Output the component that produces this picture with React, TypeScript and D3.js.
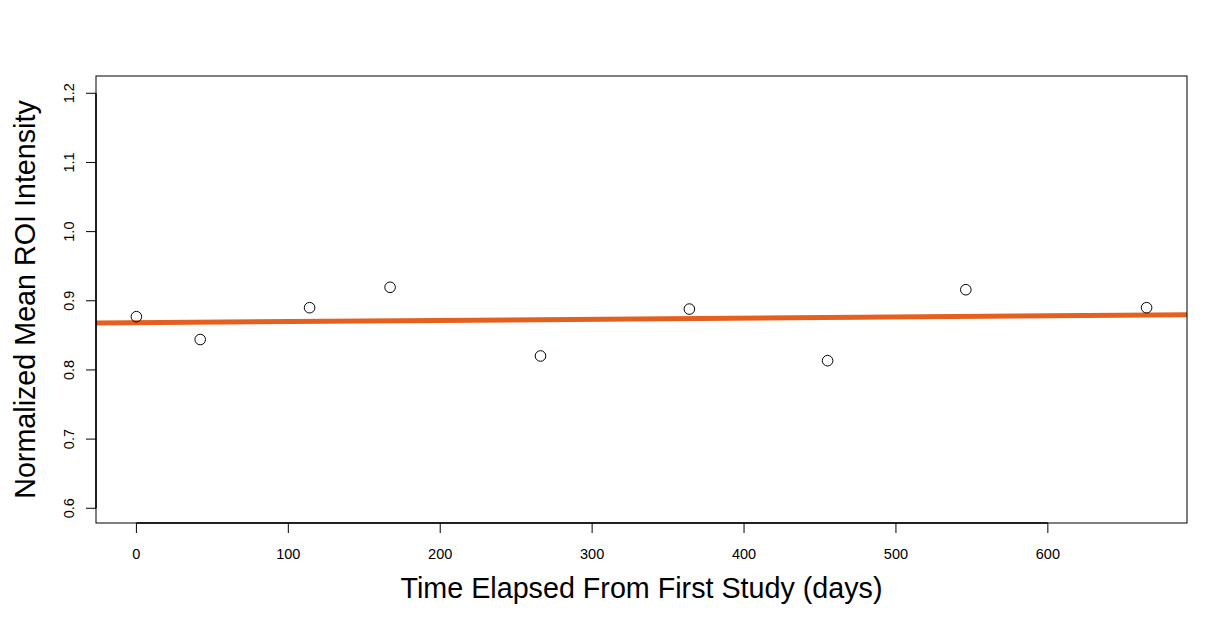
import React from "react";
import * as d3 from "d3";

const days = [0, 42, 114, 167, 266, 364, 455, 546, 665];
const intensity = [0.877, 0.844, 0.89, 0.9195, 0.8202, 0.888, 0.8134, 0.916, 0.89];
const xTicks = [0, 100, 200, 300, 400, 500, 600];
const yTicks = [0.6, 0.7, 0.8, 0.9, 1.0, 1.1, 1.2];
const xTitle = "Time Elapsed From First Study (days)";
const yTitle = "Normalized Mean ROI Intensity";

const W = 1226, H = 621;
const L = 96, R = 1187, T = 76, B = 523;

export default function App() {
  const xr = [0, 665];
  const xpad = (xr[1] - xr[0]) * 0.04;
  const x = d3.scaleLinear().domain([xr[0] - xpad, xr[1] + xpad]).range([L, R]);
  const y = d3.scaleLinear().domain([0.6 - 0.0213, 1.2 + 0.025]).range([B, T]);

  const mx = d3.mean(days)!;
  const my = d3.mean(intensity)!;
  let sxy = 0, sxx = 0;
  days.forEach((d, i) => { sxy += (d - mx) * (intensity[i] - my); sxx += (d - mx) ** 2; });
  const slope = sxy / sxx;
  const icpt = my - slope * mx;
  const [x0, x1] = x.domain();
  const line = d3.line<number>().x(d => x(d)).y(d => y(icpt + slope * d));

  const font = "'Liberation Sans', Arial, Helvetica, sans-serif";
  return (
    <svg width={W} height={H} style={{ position: "absolute", left: 0, top: 0, background: "#fff" }} fontFamily={font}>
      <defs>
        <clipPath id="plotclip"><rect x={L} y={T} width={R - L} height={B - T} /></clipPath>
      </defs>
      <g clipPath="url(#plotclip)">
        <path d={line([x0, x1]) || ""} stroke="#E5601E" strokeWidth={5} fill="none" />
      </g>
      {days.map((d, i) => (
        <circle key={i} cx={x(d)} cy={y(intensity[i])} r={5.3} fill="none" stroke="#000" strokeWidth={1} />
      ))}
      <rect x={L} y={T} width={R - L} height={B - T} fill="none" stroke="#000" strokeWidth={1} />
      {/* x axis */}
      <line x1={x(xTicks[0])} x2={x(xTicks[xTicks.length - 1])} y1={B} y2={B} stroke="#000" strokeWidth={1.5} />
      {xTicks.map(t => (
        <g key={t}>
          <line x1={x(t)} x2={x(t)} y1={B} y2={B + 10} stroke="#000" />
          <text x={x(t)} y={559} textAnchor="middle" fontSize={14.5}>{t}</text>
        </g>
      ))}
      {/* y axis */}
      <line x1={L} x2={L} y1={y(yTicks[0])} y2={y(yTicks[yTicks.length - 1])} stroke="#000" strokeWidth={1.5} />
      {yTicks.map(t => (
        <g key={t}>
          <line x1={L} x2={L - 10} y1={y(t)} y2={y(t)} stroke="#000" />
          <text transform={`translate(${73.5},${y(t)}) rotate(-90)`} textAnchor="middle" fontSize={14.5}>{t.toFixed(1)}</text>
        </g>
      ))}
      <text x={(L + R) / 2} y={598} textAnchor="middle" fontSize={28.7}>{xTitle}</text>
      <text transform={`translate(${35},${(T + B) / 2 + 0}) rotate(-90)`} textAnchor="middle" fontSize={28.7}>{yTitle}</text>
    </svg>
  );
}
